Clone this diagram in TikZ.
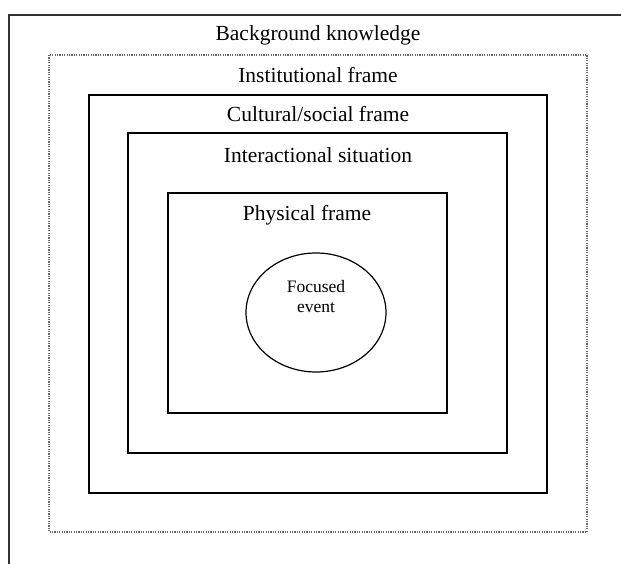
\documentclass[tikz,border=0pt]{standalone}
\usepackage{fontspec}
\setmainfont{Liberation Serif}
\usetikzlibrary{shapes.geometric}
\begin{document}
\begin{tikzpicture}[x=1pt,y=-1pt,
  framebox/.style={draw=black,line width=1.4pt},
  dotbox/.style={draw=black!60,line width=1.3pt,dash pattern=on 1.2pt off 1.2pt},
  outerline/.style={draw=black!80,line width=1.6pt},
  title/.style={font=\fontsize{21.5}{24}\selectfont,inner sep=0pt,anchor=center},
  small/.style={font=\fontsize{17.5}{20}\selectfont,align=center,inner sep=0pt}]
\useasboundingbox (0,0) rectangle (621,564);
% outer (cropped) frame
\draw[outerline] (9,564) -- (9,15) -- (621,15);
% dotted background knowledge box
\draw[dotbox] (49,55) rectangle (587,532);
% nested frames
\draw[framebox] (89,95) rectangle (547,493);
\draw[framebox] (128,133) rectangle (507,453);
\draw[framebox] (168,193) rectangle (447,413);
% focused event
\node[draw=black,line width=1.2pt,ellipse,minimum width=140,minimum height=119,inner sep=0pt] (fe) at (316,312.5) {};
\node[small] (fet) at (316,297) {Focused\\event};
% titles
\node[title] (bk) at (318,35) {Background knowledge};
\node[title] (inst) at (318,75) {Institutional frame};
\node[title] (cult) at (318,114) {Cultural/social frame};
\node[title] (inter) at (318,155) {Interactional situation};
\node[title] (phys) at (307,215) {Physical frame};
\end{tikzpicture}
\end{document}
